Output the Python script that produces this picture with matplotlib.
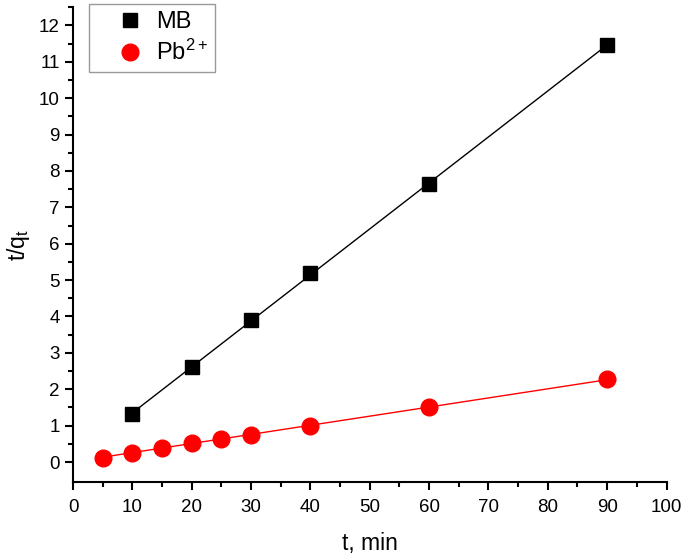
import matplotlib
matplotlib.use("Agg")
import matplotlib.pyplot as plt
import numpy as np

plt.rcParams['font.family'] = ['Liberation Sans', 'DejaVu Sans']
plt.rcParams['mathtext.fontset'] = 'custom'
plt.rcParams['mathtext.rm'] = 'Liberation Sans'
plt.rcParams['mathtext.it'] = 'Liberation Sans'

# data
t_mb = [10, 20, 30, 40, 60, 90]
q_mb = [1.32, 2.61, 3.90, 5.19, 7.64, 11.46]
t_pb = [5, 10, 15, 20, 25, 30, 40, 60, 90]
q_pb = [0.12, 0.26, 0.39, 0.53, 0.64, 0.75, 1.00, 1.50, 2.27]

fig = plt.figure(figsize=(6.85, 5.55), dpi=100)
ax = fig.add_axes([0.1066, 0.1315, 0.8664, 0.8555])

# linear fits
for t, q, c in [(t_mb, q_mb, 'black'), (t_pb, q_pb, 'red')]:
    k, b = np.polyfit(t, q, 1)
    xx = np.array([min(t), max(t)])
    ax.plot(xx, k * xx + b, color=c, lw=1.0, zorder=2)

ax.plot(t_mb, q_mb, 's', color='black', ms=9.5, label='MB', zorder=3)
ax.plot(t_pb, q_pb, 'o', color='red', ms=12, label=r'Pb$^{\mathregular{2+}}$', zorder=3)

ax.set_xlim(0, 100)
ax.set_ylim(-0.55, 12.5)
ax.set_xticks(np.arange(0, 101, 10))
ax.set_xticks(np.arange(0, 101, 5), minor=True)
ax.set_yticks(np.arange(0, 13, 1))
ax.set_yticks(np.arange(0, 12.6, 0.5), minor=True)

ax.spines['top'].set_visible(False)
ax.spines['right'].set_visible(False)
ax.spines['left'].set_linewidth(1.5)
ax.spines['bottom'].set_linewidth(1.5)
ax.tick_params(which='major', direction='out', length=6, width=1.5, labelsize=13.5)
ax.tick_params(axis='x', which='major', pad=6)
ax.tick_params(which='minor', direction='out', length=3.5, width=1.5)

ax.set_xlabel('t, min', fontsize=16.5, labelpad=12)
ax.set_ylabel(r't/q$_\mathregular{t}$', fontsize=16.5, labelpad=5)

leg = ax.legend(loc='upper left', bbox_to_anchor=(0.027, 1.007), fontsize=17,
                frameon=True, fancybox=False, edgecolor='gray', borderaxespad=0,
                handletextpad=-0.35, borderpad=0.3, labelspacing=0.3, handlelength=2.9)
leg.get_frame().set_linewidth(1.0)

fig.savefig('out.png', dpi=100)
